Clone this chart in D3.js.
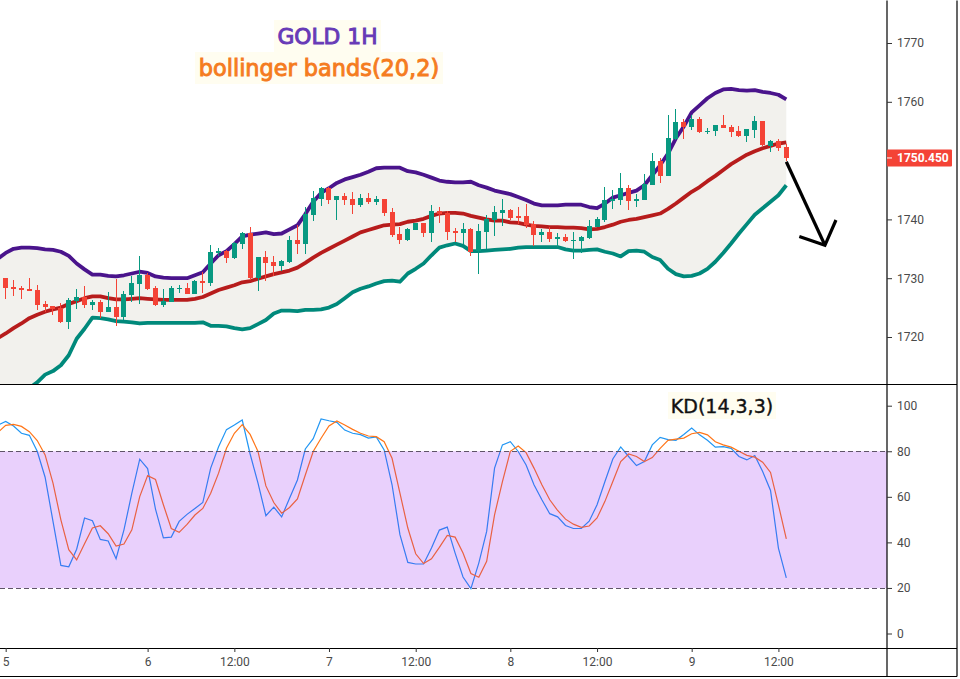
<!DOCTYPE html>
<html>
<head>
<meta charset="utf-8">
<script src="https://cdn.jsdelivr.net/npm/d3@7"></script>
<style>
body { margin: 0; background: #fff; }
svg { display: block; }
</style>
</head>
<body>
<script>
// hourly candles, one entry per bar
var opens = [1729.2,1730,1728.5,1728.3,1728.1,1728,1725.6,1725.2,1724.9,1722.5,
  1726.1,1726.8,1725.4,1725.9,1724.2,1725.1,1723.4,1727.1,1729,1730.5,
  1728.3,1725.4,1725.9,1728.1,1728.3,1727.3,1729.5,1729.1,1734.3,1734.6,
  1733.4,1735.8,1737.7,1730,1733.6,1732.7,1732,1732.7,1736.5,1735.8,
  1740.7,1743.4,1745.3,1743.3,1744,1743.4,1742.4,1743.6,1742.9,1743.4,
  1741.2,1737.5,1736.5,1738.2,1739.4,1737.7,1741.4,1741.1,1738,1737.7,
  1738.3,1734.6,1737.8,1739.9,1741.1,1741.6,1740.6,1740.6,1739.2,1737.3,
  1737.8,1736.6,1737,1736.3,1736.3,1736.8,1738.7,1739.9,1743.1,1743.3,
  1745.3,1743.1,1743.3,1745.8,1749.9,1747.4,1753.7,1756.6,1755.7,1757.1,
  1754.9,1754.9,1756,1755.7,1755,1754.2,1755.2,1756.7,1752.5,1753.3,1752.3];
var highs = [1730.2,1730,1729.7,1728.6,1730,1728.8,1726.1,1725.2,1725.7,1726.6,
  1728.1,1728.6,1726.3,1726.3,1727.6,1729.8,1727.8,1730.3,1733.7,1730.9,
  1728.6,1728.1,1728.6,1728.8,1729.1,1729.7,1731,1735.6,1735.1,1734.8,
  1736.1,1737.8,1738.7,1733.6,1734.6,1733.7,1733.1,1737.1,1739,1742.1,
  1744.8,1745.5,1745.5,1744,1744.5,1744.6,1744.3,1744.5,1744,1743.4,
  1741.9,1738.7,1738.5,1739.4,1739.4,1742.4,1742.1,1741.4,1738.5,1739.4,
  1738.5,1739.2,1740.7,1742.3,1743.4,1741.7,1742.1,1742.6,1739.7,1738.3,
  1738.7,1737.7,1737.5,1737.8,1737.1,1739.9,1740.4,1745.5,1745,1747.9,
  1745.8,1744.3,1747.7,1751.3,1750.4,1757.7,1758.8,1757.1,1757.7,1757.5,
  1755.5,1756,1757.7,1756,1755.9,1755.4,1757.6,1756.7,1753.5,1753.7,1752.8];
var lows = [1729,1726.4,1727,1726.5,1727.8,1724.6,1724.3,1723.8,1722.4,1721.3,
  1724.7,1724.9,1724.6,1723.2,1724.2,1721.8,1722.9,1725.9,1725.6,1728,
  1725.2,1725.1,1725.9,1727.4,1727.3,1727.3,1727.4,1728.6,1733.7,1732.6,
  1733.2,1734.9,1729.7,1727.8,1729.5,1730.3,1731.2,1732.6,1734.1,1734.1,
  1739.7,1742.3,1742.6,1739.9,1742.4,1741,1742.1,1742.6,1742.4,1740.6,
  1737,1735.8,1736.3,1738.2,1737,1736.1,1739.4,1736.5,1736.1,1735.8,
  1733.7,1730.7,1734.9,1737.1,1738.9,1739.9,1739.2,1738.5,1735.4,1736.1,
  1736.1,1735.3,1736.1,1733.2,1734.3,1736.6,1738.7,1739.5,1741.7,1742.4,
  1741.6,1742.1,1743.3,1745.8,1746.2,1747.4,1753.5,1753.7,1755.2,1754.7,
  1754.5,1754.2,1755.5,1754,1754,1753.1,1753.8,1752.5,1751.5,1751.6,1749.9];
var closes = [1730,1728.3,1728.1,1728,1727.8,1725.4,1725.1,1724.7,1722.5,1726.3,
  1726.8,1725.4,1725.9,1724.2,1725.1,1723.4,1727.3,1729.1,1730.5,1728.1,
  1725.4,1726.1,1728.3,1728.3,1727.3,1729.5,1729.1,1734.4,1734.6,1733.4,
  1736,1737.7,1730,1733.6,1732.6,1732,1732.9,1736.5,1735.8,1740.9,
  1743.6,1745.3,1743.3,1744,1743.3,1742.4,1743.6,1742.9,1743.4,1741,
  1737.3,1736.5,1738.3,1739.4,1737.7,1741.4,1740.9,1737.8,1737.7,1738.3,
  1734.4,1738,1740,1741.2,1741.6,1740.3,1740.3,1739,1737.3,1737.8,
  1736.6,1737,1736.3,1736.5,1737,1738.9,1740,1743.3,1743.4,1745.3,
  1743.1,1743.4,1746,1749.9,1747.4,1753.8,1756.6,1755.7,1757.1,1754.9,
  1755,1756,1755.5,1754.9,1754.2,1755.4,1756.7,1752.6,1753.3,1752.1,1750.45];

// bollinger bands(20,2)
var upperBand = [1733.3,1734.3,1735,1735.2,1735.2,1735.1,1734.9,1734.8,1734.5,1733.8,
  1732.5,1731.5,1730.6,1730.6,1730.4,1730.3,1730.5,1730.8,1731.1,1730.9,
  1730.3,1730.1,1730,1730,1730,1730.5,1731,1732.5,1733.9,1734.6,
  1735.8,1737.1,1737.4,1737.6,1737.8,1737.5,1737.6,1738.3,1739,1740.9,
  1743,1744.5,1745.3,1746.2,1746.8,1747.2,1747.6,1748.1,1748.7,1748.8,
  1748.8,1748.8,1748.2,1748,1747.6,1747.1,1746.6,1746.4,1746.3,1746.3,
  1746.4,1745.8,1745.4,1744.9,1744.6,1744.3,1743.8,1743.3,1742.7,1742.4,
  1742.4,1742.4,1742.5,1742.5,1742.5,1742.1,1741.9,1742.7,1743.7,1744.1,
  1744.5,1744.9,1745.8,1747.5,1749.2,1751.2,1753.8,1755.8,1758.2,1759.4,
  1760.6,1761.5,1762.1,1762.2,1762,1761.9,1762,1761.7,1761.5,1761.2,1760.4];
var basisBand = [1719.8,1720.6,1721.5,1722.3,1723.2,1723.8,1724.3,1724.7,1725,1725.6,
  1726.1,1726.6,1726.9,1726.9,1726.6,1726.4,1726.4,1726.5,1726.6,1726.5,
  1726.4,1726.3,1726.3,1726.3,1726.3,1726.5,1726.8,1727.4,1728,1728.4,
  1728.8,1729.3,1729.5,1729.9,1730.3,1730.7,1731,1731.3,1731.8,1732.6,
  1733.5,1734.3,1735,1735.7,1736.4,1737.1,1737.8,1738.2,1738.6,1739,
  1739.1,1739.2,1739.6,1739.8,1740.1,1740.6,1741,1741.1,1741.1,1741,
  1740.6,1740.3,1740,1739.8,1739.8,1739.5,1739.4,1739.1,1738.9,1738.8,
  1738.7,1738.7,1738.6,1738.6,1738.5,1738.3,1738.4,1738.7,1739.1,1739.6,
  1739.9,1740.1,1740.4,1740.7,1741,1741.8,1742.7,1743.7,1744.7,1745.5,
  1746.5,1747.4,1748.4,1749.4,1750.2,1751,1751.6,1752.1,1752.5,1752.9,1753.1];
var lowerBand = [1708.4,1709.1,1709.7,1710.4,1711.3,1712.3,1713.6,1714.2,1715.2,1716.9,
  1719.7,1721.4,1723.3,1723.2,1723,1722.7,1722.6,1722.5,1722.3,1722.4,
  1722.4,1722.4,1722.4,1722.4,1722.4,1722.4,1722.5,1721.9,1721.9,1721.8,
  1721.5,1721.3,1721.5,1722.2,1722.9,1724,1724.5,1724.5,1724.4,1724.6,
  1724.6,1724.7,1725,1725.6,1726.6,1727.6,1728.2,1728.6,1729.1,1729.5,
  1729.6,1729.4,1730.8,1731.6,1732.5,1733.9,1735.2,1735.6,1735.9,1735.5,
  1734.6,1734.6,1734.7,1734.8,1734.9,1735,1735.2,1735.3,1735.3,1735.3,
  1735.3,1735.3,1734.9,1734.7,1734.7,1734.8,1734.9,1734.5,1734.2,1733.7,
  1734.6,1734.7,1734.5,1733.6,1733.1,1731.6,1730.7,1730.3,1730.4,1730.8,
  1731.6,1732.8,1734.3,1735.9,1737.6,1739.2,1740.8,1741.9,1743,1744.1,1745.8];

// KD(14,3,3)
var kValues = [91.5,93.1,91.1,87.9,87,80,68.6,49.2,29.9,29.3,
  37,50.7,49.5,41.3,40.6,32.8,45.5,61.6,76.5,72.4,
  54.6,42,42.3,49.2,52.3,54.9,57.5,72.6,82,89.5,
  91.5,93.7,78.8,66,51.7,55.5,51.2,59.4,67.4,81,
  85.5,94.2,93.4,92.7,89.3,87.9,87.3,85.8,86.3,80.6,
  65.3,43.4,31.2,30.5,30.5,37.5,45.4,46.7,35.3,24.8,
  19.7,30.9,44.8,72.6,82.8,84.2,79.9,74,65.3,58.7,
  52.6,51.2,47.4,46.1,46.1,49.3,56.5,66.7,76.6,81.9,
  77.7,73.7,75.5,82.8,86.1,85.1,84.8,87.4,90.2,87.2,
  84.8,81.8,82,81.3,77.7,76.2,78.1,71.1,62.8,37.5,24.4];
var dValues = [88.2,91.4,91.8,90.9,88.6,84.7,78.4,66,49.9,36.8,
  32.3,39.4,46.3,47.3,43.8,38.4,39.3,45.5,60.1,69.3,
  67.6,56.5,46.1,44.4,47.9,52,54.9,61.6,70.4,81.3,
  87.9,91.7,87.4,79.9,64.8,57.5,52.8,55.3,59.1,69.6,
  79.9,85.7,91.1,93.3,91.5,89.6,87.9,86.7,86.4,84.2,
  76.9,61.6,46.3,35,30.7,32.8,37.8,43.1,42.3,35.3,
  26.3,24.7,31.7,52.1,66.7,80,82.3,79.4,72.6,65.3,
  58.7,54,50.2,48,46.6,47.2,50.7,58,66.7,75.5,
  78.8,77.7,75.5,77.2,81.3,84.8,85.3,85.8,87.7,88.3,
  87.2,84.2,82.8,81.8,80,78.2,77.4,75.2,70.7,56.5,41.5];

// 1750 is hidden behind the last price tag
var priceTicks = [1720, 1730, 1740, 1760, 1770];
var kdTicks = [0, 20, 40, 60, 80, 100];
var kdLevels = [20, 80];
var timeTicks = [1, 19, 30, 42, 53, 65, 76, 88, 99];
var timeLabels = ["5", "6", "12:00", "7", "12:00", "8", "12:00", "9", "12:00"];
var lastPrice = 1750.45;

// hand drawn arrow, in bars and price
var arrowShaft = [[100, 1749.8], [104.9, 1735.6]];
var arrowHead = [[101.65, 1737.1], [104.9, 1735.6], [106.3, 1739.9]];

var width = 960, height = 679;
var paneRight = 887, frameRight = 957;
var mainBottom = 384, kdBottom = 648, frameBottom = 676;
var upColor = "#089981", downColor = "#f44336";
var axisFont = "Roboto, 'Noto Sans', sans-serif";

var svg = d3.select("body").append("svg")
  .attr("width", width)
  .attr("height", height);

var x = d3.scaleLinear().domain([0, 100]).range([-2.2, 786.3]);
var y = d3.scaleLinear().domain([1720, 1770]).range([337, 43]);
var yKd = d3.scaleLinear().domain([0, 100]).range([633.5, 405.7]);

svg.append("clipPath").attr("id", "main-clip").append("rect")
  .attr("width", paneRight).attr("height", mainBottom);
svg.append("clipPath").attr("id", "kd-clip").append("rect")
  .attr("y", mainBottom).attr("width", paneRight).attr("height", kdBottom - mainBottom);

var main = svg.append("g").attr("clip-path", "url(#main-clip)");
var kd = svg.append("g").attr("clip-path", "url(#kd-clip)");

// bands
var bandArea = d3.area()
  .x(function (d, i) { return x(i); })
  .y0(function (d, i) { return y(lowerBand[i]); })
  .y1(function (d) { return y(d); });
main.append("path").datum(upperBand)
  .attr("d", bandArea)
  .attr("fill", "#f2f1ed");

var bandLine = d3.line()
  .x(function (d, i) { return x(i); })
  .y(function (d) { return y(d); });
[[upperBand, "#4a148c"], [lowerBand, "#00897b"], [basisBand, "#b71c1c"]].forEach(function (b) {
  main.append("path").datum(b[0])
    .attr("d", bandLine)
    .attr("fill", "none")
    .attr("stroke", b[1])
    .attr("stroke-width", 3.8)
    .attr("stroke-linejoin", "round");
});

// candles
var candle = main.selectAll("g.candle").data(d3.range(opens.length)).enter()
  .append("g").attr("class", "candle")
  .attr("fill", function (i) { return closes[i] >= opens[i] ? upColor : downColor; });
candle.append("rect")
  .attr("x", function (i) { return Math.floor(x(i)); })
  .attr("width", 1)
  .attr("y", function (i) { return Math.round(y(highs[i])); })
  .attr("height", function (i) { return Math.round(y(lows[i])) - Math.round(y(highs[i])); });
candle.append("rect")
  .attr("x", function (i) { return Math.floor(x(i)) - 2; })
  .attr("width", 5)
  .attr("y", function (i) { return Math.round(y(Math.max(opens[i], closes[i]))); })
  .attr("height", function (i) { return Math.max(1, Math.round(Math.abs(y(opens[i]) - y(closes[i])))); });

// arrow
var arrowLine = d3.line()
  .x(function (d) { return x(d[0]); })
  .y(function (d) { return y(d[1]); });
[arrowShaft, arrowHead].forEach(function (a) {
  svg.append("path").datum(a)
    .attr("d", arrowLine)
    .attr("fill", "none")
    .attr("stroke", "#000")
    .attr("stroke-width", 3.2);
});

// KD lines, the band goes over them
var kdLine = d3.line()
  .x(function (d, i) { return x(i); })
  .y(function (d) { return yKd(d); });
kd.append("path").datum(kValues).attr("d", kdLine)
  .attr("fill", "none").attr("stroke", "#2196f3").attr("stroke-width", 1.2);
kd.append("path").datum(dValues).attr("d", kdLine)
  .attr("fill", "none").attr("stroke", "#ff7518").attr("stroke-width", 1.2);
kd.append("rect")
  .attr("x", 0).attr("width", paneRight)
  .attr("y", yKd(kdLevels[1]))
  .attr("height", yKd(kdLevels[0]) - yKd(kdLevels[1]))
  .attr("fill", "#9114f0")
  .attr("fill-opacity", 0.2);
kdLevels.forEach(function (l) {
  kd.append("line")
    .attr("x1", 0).attr("x2", paneRight)
    .attr("y1", Math.round(yKd(l)) + 0.5).attr("y2", Math.round(yKd(l)) + 0.5)
    .attr("stroke", "#5f5468")
    .attr("stroke-dasharray", "5,3");
});

// frame
[[0, mainBottom, frameRight, mainBottom], [0, kdBottom, frameRight, kdBottom],
 [0, frameBottom, frameRight, frameBottom], [paneRight, 0, paneRight, frameBottom],
 [frameRight, 0, frameRight, frameBottom]].forEach(function (l) {
  svg.append("line")
    .attr("x1", l[0]).attr("y1", l[1] + 0.5)
    .attr("x2", l[2]).attr("y2", l[3] + 0.5)
    .attr("stroke", "#000")
    .attr("stroke-width", 1.2);
});

// axes
function styleAxis(g) {
  g.select(".domain").remove();
  g.selectAll("line").attr("stroke", "#333");
  g.selectAll("text")
    .attr("fill", "#4a4a4a")
    .attr("font-family", axisFont)
    .attr("font-size", 12);
}
svg.append("g").attr("transform", "translate(" + paneRight + ",0)")
  .call(d3.axisRight(y).tickValues(priceTicks).tickFormat(d3.format("d")).tickSize(5).tickPadding(5))
  .call(styleAxis);
svg.append("g").attr("transform", "translate(" + paneRight + ",0)")
  .call(d3.axisRight(yKd).tickValues(kdTicks).tickSize(5).tickPadding(5))
  .call(styleAxis);
svg.append("g").attr("transform", "translate(0," + kdBottom + ")")
  .call(d3.axisBottom(x).tickValues(timeTicks)
    .tickFormat(function (d, i) { return timeLabels[i]; }).tickSize(4).tickPadding(5))
  .call(styleAxis);

// last price tag
svg.append("rect")
  .attr("x", paneRight).attr("y", y(lastPrice) - 8.5)
  .attr("width", 65).attr("height", 17)
  .attr("rx", 1)
  .attr("fill", downColor);
svg.append("line")
  .attr("x1", paneRight).attr("x2", paneRight + 5)
  .attr("y1", y(lastPrice)).attr("y2", y(lastPrice))
  .attr("stroke", "#fff");
svg.append("text")
  .attr("x", paneRight + 10).attr("y", y(lastPrice) + 4.5)
  .attr("fill", "#fff")
  .attr("font-family", axisFont)
  .attr("font-size", 12)
  .attr("font-weight", 700)
  .text("1750.450");

// labels
var notes = [
  { text: "GOLD 1H", cx: 327.5, top: 20, bottom: 52, w: 107, color: "#673ab7", size: 21.8, weight: 0.95 },
  { text: "bollinger bands(20,2)", cx: 319, top: 52, bottom: 84, w: 248, color: "#f57c1f", size: 22.4, weight: 0.95 },
  { text: "KD(14,3,3)", cx: 722, top: 392, bottom: 419, w: 108, color: "#111", size: 19, weight: 0.4 }
];
notes.forEach(function (n) {
  svg.append("rect")
    .attr("x", n.cx - n.w / 2).attr("y", n.top)
    .attr("width", n.w).attr("height", n.bottom - n.top)
    .attr("fill", "#fffdf0");
  svg.append("text")
    .attr("x", n.cx).attr("y", (n.top + n.bottom) / 2 + 7.5)
    .attr("text-anchor", "middle")
    .attr("fill", n.color)
    .attr("stroke", n.color)
    .attr("stroke-width", n.weight)
    .attr("font-family", "'DejaVu Sans', sans-serif")
    .attr("font-size", n.size)
    .text(n.text);
});
</script>
</body>
</html>
